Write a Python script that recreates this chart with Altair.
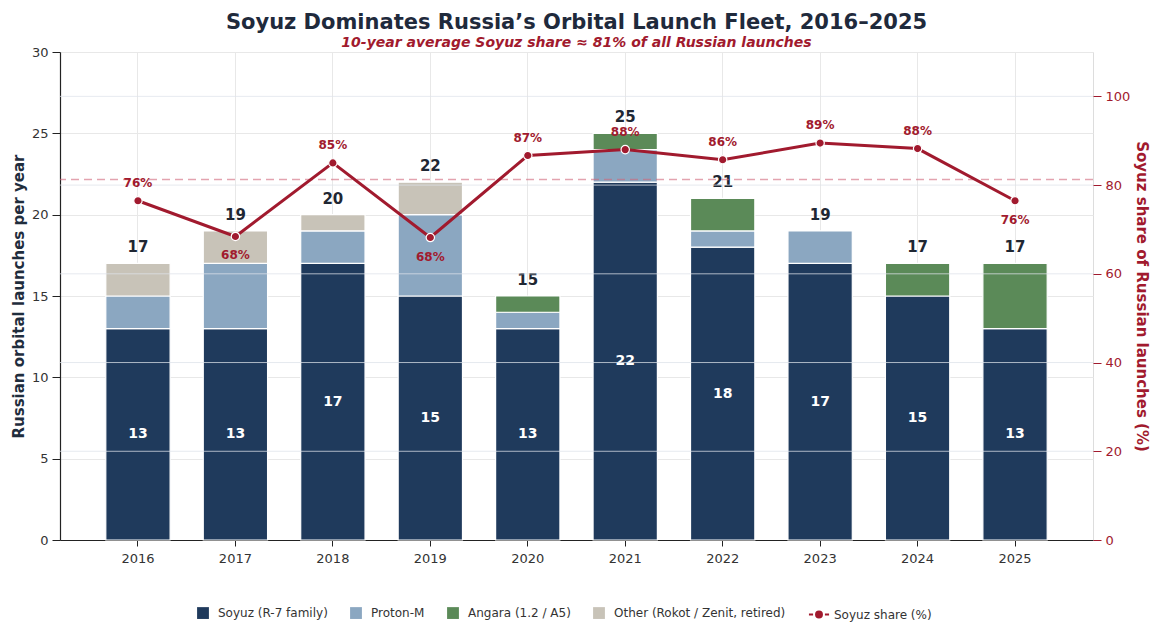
import altair as alt
import pandas as pd

years = [2016, 2017, 2018, 2019, 2020, 2021, 2022, 2023, 2024, 2025]
soyuz = [13, 13, 17, 15, 13, 22, 18, 17, 15, 13]
proton = [2, 4, 2, 5, 1, 2, 1, 2, 0, 0]
angara = [0, 0, 0, 0, 1, 1, 2, 0, 2, 4]
other = [2, 2, 1, 2, 0, 0, 0, 0, 0, 0]

series_names = ["Soyuz (R-7 family)", "Proton-M", "Angara (1.2 / A5)", "Other (Rokot / Zenit, retired)"]
share_name = "Soyuz share (%)"
colors = ["#1f3a5c", "#8ba7c1", "#5b8a58", "#c8c3b8", "#a11a2e"]
left_ticks = [0, 5, 10, 15, 20, 25, 30]
right_ticks = [0, 20, 40, 60, 80, 100]
CRIMSON = "#a11a2e"
FONT = "DejaVu Sans"

rows = []
for i, y in enumerate(years):
    for k, (name, vals) in enumerate(zip(series_names, [soyuz, proton, angara, other])):
        if vals[i] > 0:
            rows.append({"year": str(y), "series": name, "count": vals[i], "order": k})
bars_df = pd.DataFrame(rows)

totals = [s + p + a + o for s, p, a, o in zip(soyuz, proton, angara, other)]
shares = [s / t * 100 for s, t in zip(soyuz, totals)]
avg_share = sum(soyuz) / sum(totals) * 100

line_rows = []
for i, y in enumerate(years):
    prev = shares[i - 1] if i > 0 else None
    nxt = shares[i + 1] if i < len(years) - 1 else None
    local_min = all(v is None or shares[i] < v for v in (prev, nxt))
    below = local_min and shares[i] < avg_share
    line_rows.append({
        "year": str(y),
        "share": shares[i],
        "label": f"{round(shares[i])}%",
        "below": below,
        "total": totals[i],
        "soyuz": soyuz[i],
        "soyuz_mid": soyuz[i] / 2,
    })
line_df = pd.DataFrame(line_rows)
avg_df = pd.DataFrame({"avg": [avg_share]})
grid_df = pd.DataFrame({"g": right_ticks[1:]})

x_enc = alt.X(
    "year:N",
    title=None,
    scale=alt.Scale(paddingInner=0.34, paddingOuter=0.47),
    axis=alt.Axis(
        labelAngle=0, labelFont=FONT, labelFontSize=13, labelColor="#333333",
        domainColor="#222222", domainWidth=1.2, tickColor="#222222", tickSize=6,
        labelPadding=6, grid=True, gridColor="#e8e8e8", gridWidth=1,
    ),
)

left_scale = alt.Scale(domain=[0, 30], nice=False)
right_scale = alt.Scale(domain=[0, 110], nice=False)

bars = alt.Chart(bars_df).mark_bar(stroke="white", strokeWidth=1.2).encode(
    x=x_enc,
    y=alt.Y(
        "count:Q", stack="zero", scale=left_scale,
        title="Russian orbital launches per year",
        axis=alt.Axis(
            values=left_ticks, labelFont=FONT, labelFontSize=13,
            labelColor="#333333", domainColor="#222222", domainWidth=1.2,
            tickColor="#222222", tickSize=8, labelPadding=4, gridColor="#e8e8e8",
            titleFont=FONT, titleFontSize=15, titleFontWeight="bold",
            titleColor="#1f2d3d", titlePadding=5,
        ),
    ),
    color=alt.Color(
        "series:N",
        scale=alt.Scale(domain=series_names + [share_name], range=colors),
        legend=alt.Legend(
            title=None, orient="none", direction="horizontal",
            legendX=136, legendY=554,
            labelFont=FONT, labelFontSize=12, labelColor="#333333", labelLimit=400,
            symbolSize=140, labelOffset=8, columnPadding=18,
            symbolType={"expr": "datum.value == '" + share_name + "' ? 'M-1.7,0H-1.0M1.0,0H1.7M-0.5,0A0.5,0.5,0,1,0,0.5,0A0.5,0.5,0,1,0,-0.5,0' : 'square'"},
            symbolStrokeColor={"expr": "datum.value == '" + share_name + "' ? '" + CRIMSON + "' : 'transparent'"},
            symbolStrokeWidth=2,
            symbolOpacity=1,
        ),
    ),
    order=alt.Order("order:Q"),
)

totals_text = alt.Chart(line_df).mark_text(
    font=FONT, fontSize=15, fontWeight="bold", color="#1f2733", dy=-16
).encode(x=x_enc, y=alt.Y("total:Q", scale=left_scale), text="total:Q")

soyuz_text = alt.Chart(line_df).mark_text(
    font=FONT, fontSize=14, fontWeight="bold", color="white"
).encode(x=x_enc, y=alt.Y("soyuz_mid:Q", scale=left_scale), text="soyuz:Q")

left = alt.layer(bars, totals_text, soyuz_text)

right_axis = alt.Axis(
    orient="right", values=right_ticks, labelFont=FONT, labelFontSize=13,
    labelColor=CRIMSON, domain=False, tickColor=CRIMSON, tickSize=8, labelPadding=4,
    grid=False,
    title="Soyuz share of Russian launches (%)", titleFont=FONT, titleFontSize=15,
    titleFontWeight="bold", titleColor=CRIMSON, titlePadding=4,
)

grid_rules = alt.Chart(grid_df).mark_rule(
    color="#dde3ea", strokeWidth=1, opacity=0.75
).encode(y=alt.Y("g:Q", scale=right_scale, axis=right_axis))

avg_rule = alt.Chart(avg_df).mark_rule(
    color="#d0667a", strokeDash=[8, 5], strokeWidth=1.5, opacity=0.6
).encode(y=alt.Y("avg:Q", scale=right_scale, axis=right_axis))

line = alt.Chart(line_df).mark_line(color=CRIMSON, strokeWidth=3).encode(
    x=x_enc, y=alt.Y("share:Q", scale=right_scale, axis=right_axis)
)
points = alt.Chart(line_df).mark_point(
    filled=True, fill=CRIMSON, stroke="white", strokeWidth=1.2, size=70, opacity=1
).encode(x=x_enc, y=alt.Y("share:Q", scale=right_scale, axis=right_axis))

pct_above = alt.Chart(line_df).transform_filter("!datum.below").mark_text(
    font=FONT, fontSize=12, fontWeight="bold", color=CRIMSON, dy=-18
).encode(x=x_enc, y=alt.Y("share:Q", scale=right_scale, axis=right_axis), text="label:N")
pct_below = alt.Chart(line_df).transform_filter("datum.below").mark_text(
    font=FONT, fontSize=12, fontWeight="bold", color=CRIMSON, dy=19
).encode(x=x_enc, y=alt.Y("share:Q", scale=right_scale, axis=right_axis), text="label:N")

right = alt.layer(grid_rules, avg_rule, line, points, pct_above, pct_below)

chart = alt.layer(left, right).resolve_scale(y="independent").properties(
    width=1033,
    height=488,
    autosize=alt.AutoSizeParams(type="none"),
    padding={"left": 52, "top": 44, "right": 61, "bottom": 89},
    title=alt.TitleParams(
        text="Soyuz Dominates Russia\u2019s Orbital Launch Fleet, 2016\u20132025",
        subtitle="10-year average Soyuz share \u2248 81% of all Russian launches",
        font=FONT, fontSize=21, fontWeight="bold", color="#1f2a3c",
        subtitleFont=FONT, subtitleFontSize=14, subtitleFontStyle="italic",
        subtitleFontWeight="bold", subtitleColor=CRIMSON, subtitlePadding=3,
        anchor="middle", frame="group", offset=-4,
    ),
).configure_view(stroke=None).configure(background="white")

chart.save("out.html", embed_options={"renderer": "svg", "actions": False})
